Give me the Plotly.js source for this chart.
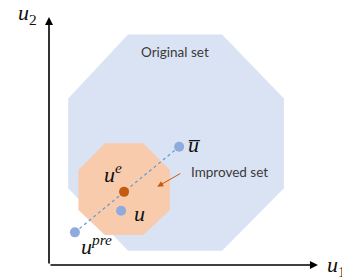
<!DOCTYPE html>
<html>
<head>
<meta charset="utf-8">
<script src="https://cdn.plot.ly/plotly-3.0.1.min.js"></script>
<style>html,body{margin:0;padding:0;background:#fff;}#chart{width:342px;height:278px;}</style>
</head>
<body>
<div id="chart"></div>
<script>
// Original feasible set (octagon vertices)
const origU1 = [2.93, 6.41, 8.70, 8.70, 6.41, 2.93, 0.71, 0.71];
const origU2 = [8.54, 8.54, 6.17, 2.84, 0.53, 0.53, 2.84, 6.17];
// Improved set (octagon vertices)
const imprU1 = [2.07, 3.49, 4.48, 4.48, 3.49, 2.07, 1.09, 1.09];
const imprU2 = [4.51, 4.51, 3.52, 2.04, 1.11, 1.11, 2.04, 3.52];
// Points
const pointNames = ["u_pre", "u_bar", "u_e", "u"];
const pointU1 = [0.96, 4.82, 2.78, 2.67];
const pointU2 = [1.21, 4.38, 2.71, 2.01];
// Arrow for "Improved set" label (tail -> head)
const arrowTail = [4.92, 3.42];
const arrowHead = [4.01, 2.90];
// Axis arrow extents
const axisU1Max = 9.96;
const axisU2Max = 9.19;

const traces = [
  {x: origU1, y: origU2, mode: 'none', fill: 'toself', fillcolor: '#DAE3F3', hoverinfo: 'skip'},
  {x: imprU1, y: imprU2, mode: 'none', fill: 'toself', fillcolor: '#F8CBAD', hoverinfo: 'skip'},
  {x: [pointU1[0], pointU1[1]], y: [pointU2[0], pointU2[1]], mode: 'lines',
   line: {color: '#5B9BD5', width: 1.2, dash: 'dot'}, hoverinfo: 'skip'},
  {x: [pointU1[0], pointU1[1], pointU1[3]], y: [pointU2[0], pointU2[1], pointU2[3]], mode: 'markers',
   marker: {color: '#8FAADC', size: 10}, hoverinfo: 'skip'},
  {x: [pointU1[2]], y: [pointU2[2]], mode: 'markers',
   marker: {color: '#C55A11', size: 10}, hoverinfo: 'skip'}
];

const mathFont = {family: 'Liberation Serif, DejaVu Serif, serif', size: 22, color: '#111'};
const labelFont = {family: 'Lato, Open Sans, sans-serif', size: 13.5, color: '#3a3a3a'};

const annotations = [
  // axes
  {x: axisU1Max, y: 0, ax: 0, ay: 0, axref: 'x', ayref: 'y', xref: 'x', yref: 'y', text: '',
   showarrow: true, arrowhead: 2, arrowsize: 1, arrowwidth: 1.6, arrowcolor: '#000', standoff: 0},
  {x: 0, y: axisU2Max, ax: 0, ay: 0, axref: 'x', ayref: 'y', xref: 'x', yref: 'y', text: '',
   showarrow: true, arrowhead: 2, arrowsize: 1, arrowwidth: 1.6, arrowcolor: '#000', standoff: 0},
  // improved set arrow
  {x: arrowHead[0], y: arrowHead[1], ax: arrowTail[0], ay: arrowTail[1], axref: 'x', ayref: 'y', text: '',
   showarrow: true, arrowhead: 2, arrowsize: 1.2, arrowwidth: 1, arrowcolor: '#C55A11', standoff: 0},
  // text labels
  {x: 4.67, y: 7.90, text: 'Original set', showarrow: false, font: labelFont, xanchor: 'center', yanchor: 'middle'},
  {x: 5.18, y: 3.43, text: 'Improved set', showarrow: false, font: labelFont, xanchor: 'left', yanchor: 'middle'},
  {x: 5.06, y: 4.45, text: '<i>u\u0305</i>', showarrow: false, font: mathFont, xanchor: 'left', yanchor: 'middle'},
  {x: 1.96, y: 3.42, text: '<i>u<sup>e</sup></i>', showarrow: false, font: mathFont, xanchor: 'left', yanchor: 'middle'},
  {x: 3.06, y: 1.90, text: '<i>u</i>', showarrow: false, font: mathFont, xanchor: 'left', yanchor: 'middle'},
  {x: 1.10, y: 0.74, text: '<i>u<sup>pre</sup></i>', showarrow: false, font: mathFont, xanchor: 'left', yanchor: 'middle'},
  {x: -1.22, y: 9.28, text: '<i>u</i><sub>2</sub>', showarrow: false, font: mathFont, xanchor: 'left', yanchor: 'middle'},
  {x: 10.24, y: -0.02, text: '<i>u</i><sub>1</sub>', showarrow: false, font: mathFont, xanchor: 'left', yanchor: 'middle'}
];

const layout = {
  width: 342, height: 278,
  margin: {l: 0, r: 0, t: 0, b: 0, pad: 0},
  paper_bgcolor: '#fff', plot_bgcolor: '#fff',
  showlegend: false,
  xaxis: {range: [-1.815, 10.852], visible: false, fixedrange: true},
  yaxis: {range: [-0.481, 9.815], visible: false, fixedrange: true},
  annotations: annotations
};

Plotly.newPlot('chart', traces, layout, {displayModeBar: false, staticPlot: true});
</script>
</body>
</html>
